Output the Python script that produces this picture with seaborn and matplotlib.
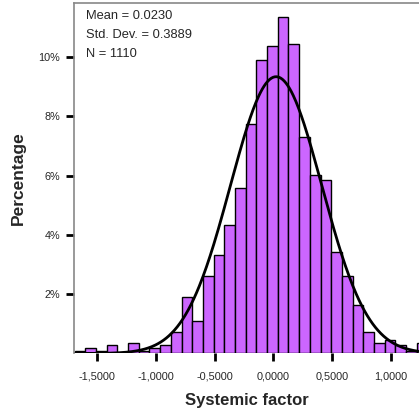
import numpy as np
import pandas as pd
import matplotlib
matplotlib.use("Agg")
import matplotlib.pyplot as plt
import seaborn as sns
from matplotlib.ticker import FuncFormatter

# histogram counts, left to right
counts = [1, 2, 1, 3, 0, 4, 1, 2, 3, 8,
          21, 12, 29, 37, 48, 62, 86, 110, 115, 126,
          116, 81, 67, 65, 38, 29, 18, 8, 4, 5,
          3, 1, 4]
n_total = 1110
mean_val = 0.0230
sd_val = 0.3889
first_edge = -1.692
bin_width = 0.091

x_ticks = [-1.5, -1.0, -0.5, 0.0, 0.5, 1.0]
y_ticks = [2, 4, 6, 8, 10]

edges = first_edge + bin_width * np.arange(len(counts) + 1)
centers = (edges[:-1] + edges[1:]) / 2
df = pd.DataFrame({"x": centers, "pct": np.array(counts) / n_total * 100})

sns.set_style("white")
plt.rcParams["font.family"] = ["Liberation Sans", "DejaVu Sans"]

fig = plt.figure(figsize=(4.19, 4.13), dpi=100)
ax = fig.add_axes([0.1766, 0.1441, 0.8234, 0.8486])

sns.histplot(data=df, x="x", weights="pct", bins=list(edges), color="#CC66FF",
             edgecolor="black", linewidth=1, alpha=1, ax=ax)

# normal curve for the stated mean / sd, scaled to percent per bin
xs = np.linspace(-1.75, 1.35, 400)
curve = bin_width * 100 * np.exp(-0.5 * ((xs - mean_val) / sd_val) ** 2) / (sd_val * np.sqrt(2 * np.pi))
sns.lineplot(x=xs, y=curve, color="black", linewidth=2, ax=ax)

ax.set_xlim(-1.697, 1.239)
ax.set_ylim(0, 11.82)
ax.set_xticks(x_ticks)
ax.set_yticks(y_ticks)
ax.xaxis.set_major_formatter(FuncFormatter(lambda v, p: f"{v:.4f}".replace(".", ",")))
ax.yaxis.set_major_formatter(FuncFormatter(lambda v, p: f"{v:.0f}%"))
ax.tick_params(axis="both", direction="out", length=6, width=2, color="black",
               labelsize=7.8, bottom=True, left=True)
ax.tick_params(axis="x", pad=7)
ax.tick_params(axis="y", pad=4)

for side in ["left", "top"]:
    ax.spines[side].set_color("#888888")
    ax.spines[side].set_linewidth(1.2)
ax.spines["right"].set_visible(False)
ax.spines["bottom"].set_visible(False)

ax.set_xlabel("Systemic factor", fontsize=12, fontweight="bold", labelpad=8)
ax.set_ylabel("Percentage", fontsize=12.5, fontweight="bold", labelpad=9)

ax.text(0.035, 0.98, f"Mean = {mean_val:.4f}\nStd. Dev. = {sd_val:.4f}\nN = {n_total}",
        transform=ax.transAxes, ha="left", va="top", fontsize=9.3, linespacing=1.8)

plt.savefig("out.png", dpi=100)
